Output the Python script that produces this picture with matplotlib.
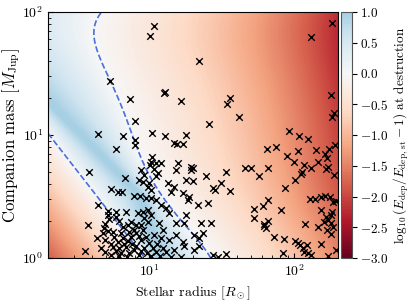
import numpy as np
import matplotlib
matplotlib.use('Agg')
import matplotlib.pyplot as plt
from matplotlib.colors import ListedColormap

plt.rcParams['font.family'] = 'serif'
plt.rcParams['font.serif'] = ['cmr10', 'DejaVu Serif']
plt.rcParams['mathtext.fontset'] = 'cm'
plt.rcParams['axes.formatter.use_mathtext'] = True
plt.rcParams['font.size'] = 10

# companions at destruction (log10 of radius [Rsun], log10 of mass [MJup])
log_radius = [
    1.034, 1.007, 2.262, 2.117, 1.345, 0.731, 1.103, 1.110, 0.869, 1.221, 1.559, 1.538, 2.255, 1.621,
    1.414, 0.903, 2.276, 2.262, 0.648, 0.821, 1.021, 1.110, 1.255, 1.966, 2.034, 2.097, 0.903, 0.903,
    0.772, 1.172, 1.193, 1.234, 1.814, 1.876, 2.028, 2.152, 2.241, 2.283,
    1.021, 1.014, 1.048, 1.083, 1.007, 1.034, 1.062, 1.048, 1.200, 1.186, 1.290, 1.290, 1.303, 0.945,
    0.966, 0.959, 1.000, 0.993, 1.014, 1.131, 1.172, 1.152, 1.234, 1.276, 1.269, 1.255, 1.303, 1.338,
    1.407, 1.393, 1.441, 0.931, 1.014, 1.048, 1.083, 1.117, 1.138,
    0.586, 0.834, 0.738, 0.786, 0.814, 0.897, 0.938, 0.979, 0.648, 0.717, 0.717, 0.772, 0.841, 0.724,
    0.772, 0.579, 0.697, 0.690, 0.717, 0.793, 0.821, 0.855, 0.910, 0.897, 0.876, 0.924, 0.959, 0.641,
    0.759, 0.786, 0.821, 0.876, 0.910, 0.959, 0.559, 0.752, 0.772, 0.807, 0.841, 0.862, 0.897, 0.910,
    0.931, 0.979, 1.000, 1.028, 0.697, 0.738, 0.793, 0.828, 0.855, 0.883, 0.945, 0.966, 0.986, 1.014,
    1.048, 0.945, 0.848, 0.793, 0.738, 0.697, 0.669, 0.683, 0.752, 0.807, 0.862, 0.931, 0.945, 0.993,
    0.966, 1.014, 0.993, 1.069, 1.097, 1.034, 1.083, 1.055, 1.097, 1.076, 1.117,
    1.186, 1.255, 1.241, 1.359, 1.310, 1.372, 1.345, 1.428, 1.234, 1.241, 1.172, 1.152, 1.310, 1.345,
    1.441, 1.221, 1.476, 1.138, 1.186,
    1.455, 1.497, 1.559, 1.531, 1.662, 1.703, 1.759, 1.821, 1.952, 2.214, 2.228, 2.166, 2.000, 2.069,
    2.055, 2.048, 2.117, 2.234, 2.221, 2.276, 2.007, 1.938, 2.110, 2.145, 2.186, 2.214, 2.248, 2.269,
    2.290, 1.821, 1.786, 1.724, 1.910, 2.186, 2.262, 2.255, 1.724, 1.821, 1.793, 1.807, 1.793, 2.221,
    2.234, 2.207, 2.076, 2.166, 2.255, 2.269, 2.255, 2.228, 1.862, 1.931, 2.007, 2.028, 2.041, 2.062,
    2.090, 2.069, 2.097, 2.117, 2.186, 2.234, 1.924, 1.531, 2.290,
]
log_mass = [
    1.886, 1.805, 1.911, 1.797, 1.602, 1.439, 1.341, 1.350, 1.293, 1.276, 1.301, 1.252, 1.325, 1.146,
    1.089, 1.114, 1.179, 1.146, 1.008, 0.992, 1.016, 0.992, 1.000, 1.033, 0.992, 0.967, 0.959, 0.919,
    0.886, 0.935, 0.927, 0.927, 0.886, 0.902, 0.870, 0.878, 0.886, 0.919,
    0.821, 0.780, 0.772, 0.772, 0.756, 0.724, 0.691, 0.667, 0.772, 0.715, 0.740, 0.715, 0.732, 0.715,
    0.675, 0.618, 0.610, 0.577, 0.553, 0.610, 0.577, 0.537, 0.528, 0.496, 0.472, 0.634, 0.626, 0.431,
    0.447, 0.667, 0.569, 0.634, 0.488, 0.472, 0.431, 0.407, 0.366,
    0.699, 0.650, 0.561, 0.537, 0.537, 0.504, 0.504, 0.488, 0.431, 0.382, 0.350, 0.374, 0.374, 0.317,
    0.333, 0.268, 0.276, 0.244, 0.220, 0.301, 0.252, 0.268, 0.268, 0.228, 0.293, 0.366, 0.374, 0.163,
    0.171, 0.130, 0.163, 0.171, 0.203, 0.228, 0.057, 0.089, 0.057, 0.041, 0.089, 0.041, 0.065, 0.098,
    0.024, 0.171, 0.122, 0.081, 0.146, 0.114, 0.081, 0.114, 0.138, 0.114, 0.146, 0.081, 0.041, 0.016,
    0.049, 0.057, 0.008, 0.016, 0.024, 0.049, 0.081, 0.203, 0.211, 0.203, 0.211, 0.179, 0.268, 0.293,
    0.325, 0.350, 0.390, 0.285, 0.228, 0.187, 0.163, 0.114, 0.081, 0.016, 0.049,
    0.285, 0.350, 0.285, 0.285, 0.187, 0.203, 0.163, 0.285, 0.130, 0.098, 0.065, 0.008, 0.065, 0.098,
    0.024, 0.008, 0.008, 0.146, 0.187,
    0.553, 0.610, 0.545, 0.699, 0.732, 0.732, 0.667, 0.732, 0.829, 0.846, 0.813, 0.780, 0.780, 0.756,
    0.699, 0.683, 0.732, 0.740, 0.724, 0.675, 0.634, 0.569, 0.480, 0.480, 0.496, 0.504, 0.496, 0.455,
    0.463, 0.472, 0.423, 0.398, 0.390, 0.390, 0.374, 0.350, 0.325, 0.301, 0.260, 0.244, 0.276, 0.333,
    0.309, 0.293, 0.276, 0.252, 0.285, 0.252, 0.195, 0.228, 0.171, 0.154, 0.138, 0.122, 0.106, 0.081,
    0.106, 0.049, 0.041, 0.024, 0.114, 0.016, 0.041, 0.033, 0.065,
]

# shape of the background map (log10 R where the 0-level lines and the blue ridge sit)
lower_zero_v = [0.0, 1.0]
lower_zero_u = [0.970, 0.310]
ridge_v = [0.0, 0.512, 1.228, 2.0]
ridge_u = [1.06, 0.945, 0.338, -0.317]
upper_zero_v = [0.0, 0.252, 0.415, 0.634, 0.772, 0.976, 1.065, 1.228, 1.439, 1.553, 1.748, 1.878, 2.0]
upper_zero_u = [1.42, 1.269, 1.131, 1.014, 0.959, 0.897, 0.862, 0.807, 0.731, 0.676, 0.634, 0.621, 0.669]
peak = 1.05

uu = np.linspace(np.log10(2.0), np.log10(200.0), 500)
vv = np.linspace(0, 2, 400)
U, V = np.meshgrid(uu, vv)

pl = np.polyfit(lower_zero_v, lower_zero_u, 1)
uL = np.polyval(pl, V)
uR = np.interp(V, ridge_v, ridge_u)
pu = np.polyfit(upper_zero_v, upper_zero_u, 5)
uU = np.polyval(pu, V)


def trend(u):
    d = np.clip(u - 0.6, 0, None)
    return -0.9 * d - 0.15 * d ** 3


field = np.where(U < uL, -2.7 * (uL - U), 0.0)
m1 = (U >= uL) & (U < uR)
field = np.where(m1, peak * (U - uL) / np.maximum(uR - uL, 1e-3), field)
m2 = (U >= uR) & (U < uU) & (U >= uL)
field = np.where(m2, peak * (uU - U) / np.maximum(uU - uR, 1e-3), field)
m3 = U >= uU
field = np.where(m3, trend(U) - trend(uU), field)

cmap = ListedColormap(plt.get_cmap('RdBu')(np.linspace(0, 2 / 3, 256)))

fig = plt.figure(figsize=(4.12, 3.01), dpi=100)
ax = fig.add_axes([48 / 412, 43 / 301, 290 / 412, 246 / 301])
cax = fig.add_axes([341 / 412, 43 / 301, 11 / 412, 246 / 301])

mesh = ax.pcolormesh(10 ** uu, 10 ** vv, field, cmap=cmap, vmin=-3, vmax=1,
                     shading='gouraud', rasterized=True)
ax.contour(10 ** U, 10 ** V, field, levels=[0], colors='#4a6ee0',
           linestyles='--', linewidths=1.2)
ax.scatter(10 ** np.array(log_radius), 10 ** np.array(log_mass), marker='x',
           c='k', s=22, linewidths=1.0, zorder=5, clip_on=True)

ax.set_xscale('log')
ax.set_yscale('log')
ax.set_xlim(2, 200)
ax.set_ylim(1, 100)
ax.tick_params(which='both', direction='in')
ax.set_xlabel(r'Stellar radius [$R_\odot$]')
ax.set_ylabel(r'Companion mass [$M_{\rm Jup}$]', fontsize=12)
ax.yaxis.set_label_coords(-0.09, 0.5)

cb = fig.colorbar(mesh, cax=cax, ticks=np.arange(-3, 1.01, 0.5))
cb.ax.tick_params(labelsize=9.5, pad=2.5)
cb.set_label(r'$\log_{10}(E_{\rm dep}/E_{\rm dep,\,st}-1)$ at destruction', fontsize=9.5)
cb.ax.yaxis.set_label_coords(4.65, 0.5)
cb.outline.set_edgecolor('#555555')

fig.savefig('out.png', dpi=100)
